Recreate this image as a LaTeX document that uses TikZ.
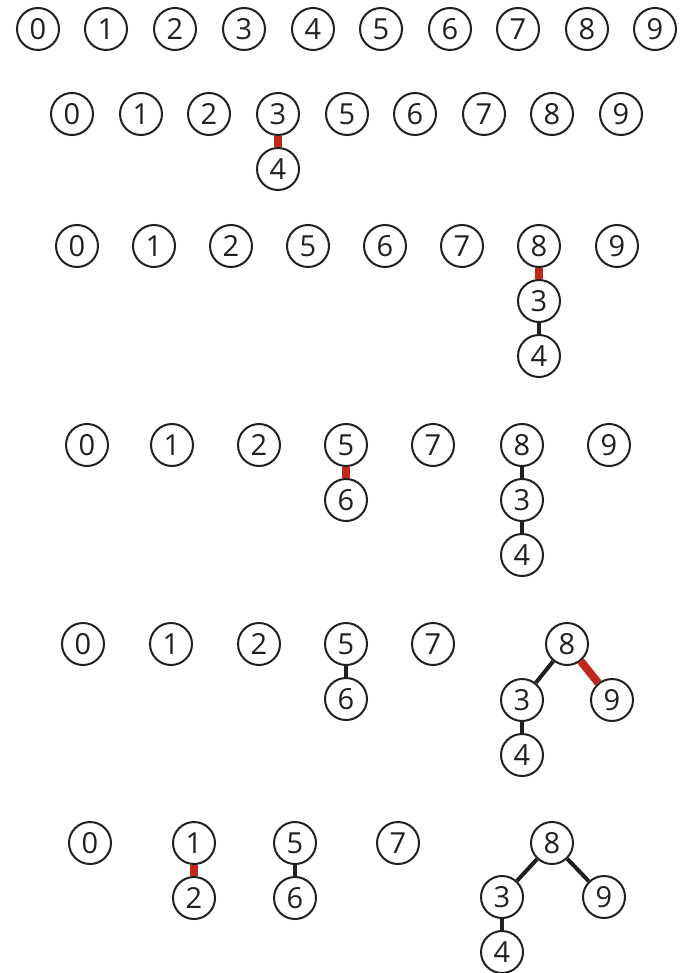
\documentclass[tikz,border=0pt]{standalone}
\usepackage{fontspec}
\setmainfont{Open Sans}
\usetikzlibrary{positioning}
\definecolor{linkred}{HTML}{C0281C}
\definecolor{ink}{HTML}{231F20}

\begin{document}
\begin{tikzpicture}[
  x=1pt, y=-1pt,
  elem/.style={circle, draw=ink, line width=2pt, minimum size=42pt,
               inner sep=0pt, text=ink, font=\fontsize{29}{29}\selectfont},
  link/.style={draw=ink, line width=4pt},
  newlink/.style={draw=linkred, line width=8pt},
  node distance=11pt
]
\useasboundingbox (0,0) rectangle (682,973);
% Row 1
\node[elem] (a0) at (38,29) {0};
\node[elem] (a1) at (106,29) {1};
\node[elem] (a2) at (175,29) {2};
\node[elem] (a3) at (244,29) {3};
\node[elem] (a4) at (313,29) {4};
\node[elem] (a5) at (381,29) {5};
\node[elem] (a6) at (450,29) {6};
\node[elem] (a7) at (518,29) {7};
\node[elem] (a8) at (587,29) {8};
\node[elem] (a9) at (655,29) {9};
% Row 2
\node[elem] (b0) at (72,114) {0};
\node[elem] (b1) at (141,114) {1};
\node[elem] (b2) at (209,114) {2};
\node[elem] (b3) at (278,114) {3};
\node[elem] (b5) at (347,114) {5};
\node[elem] (b6) at (415,114) {6};
\node[elem] (b7) at (484,114) {7};
\node[elem] (b8) at (552,114) {8};
\node[elem] (b9) at (621,114) {9};
\node[elem, below=of b3] (b4) {4};
% Row 3
\node[elem] (c0) at (77,246) {0};
\node[elem] (c1) at (154,246) {1};
\node[elem] (c2) at (231,246) {2};
\node[elem] (c5) at (308,246) {5};
\node[elem] (c6) at (385,246) {6};
\node[elem] (c7) at (462,246) {7};
\node[elem] (c8) at (539,246) {8};
\node[elem] (c9) at (617,246) {9};
\node[elem, below=of c8] (c3) {3};
\node[elem, below=of c3] (c4) {4};
% Row 4
\node[elem] (d0) at (87,445) {0};
\node[elem] (d1) at (172,445) {1};
\node[elem] (d2) at (259,445) {2};
\node[elem] (d5) at (346,445) {5};
\node[elem] (d7) at (433,445) {7};
\node[elem] (d8) at (522,445) {8};
\node[elem] (d9) at (609,445) {9};
\node[elem, below=of d5] (d6) {6};
\node[elem, below=of d8] (d3) {3};
\node[elem, below=of d3] (d4) {4};
% Row 5
\node[elem] (e0) at (83,644) {0};
\node[elem] (e1) at (171,644) {1};
\node[elem] (e2) at (259,644) {2};
\node[elem] (e5) at (346,644) {5};
\node[elem] (e7) at (433,644) {7};
\node[elem] (e8) at (567,644) {8};
\node[elem, below=of e5] (e6) {6};
\node[elem] (e3) at (522,700) {3};
\node[elem] (e9) at (612,700) {9};
\node[elem, below=of e3] (e4) {4};
% Row 6
\node[elem] (f0) at (90,843) {0};
\node[elem] (f1) at (194,843) {1};
\node[elem] (f5) at (295,843) {5};
\node[elem] (f7) at (398,843) {7};
\node[elem] (f8) at (552,843) {8};
\node[elem, below=of f1] (f2) {2};
\node[elem, below=of f5] (f6) {6};
\node[elem] (f3) at (502,897) {3};
\node[elem] (f9) at (604,897) {9};
\node[elem, below=of f3] (f4) {4};
% Edges
\path[newlink] (b3) -- (b4);
\path[newlink] (c8) -- (c3);
\path[link] (c3) -- (c4);
\path[newlink] (d5) -- (d6);
\path[link] (d8) -- (d3);
\path[link] (d3) -- (d4);
\path[link] (e5) -- (e6);
\path[link] (e8) -- (e3);
\path[newlink] (e8) -- (e9);
\path[link] (e3) -- (e4);
\path[newlink] (f1) -- (f2);
\path[link] (f5) -- (f6);
\path[link] (f8) -- (f3);
\path[link] (f8) -- (f9);
\path[link] (f3) -- (f4);
\end{tikzpicture}
\end{document}
